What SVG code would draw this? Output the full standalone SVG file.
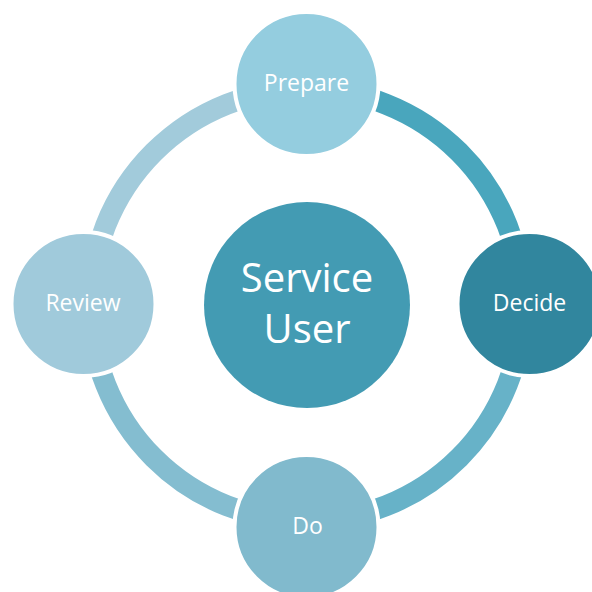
<svg xmlns="http://www.w3.org/2000/svg" width="592" height="592" viewBox="0 0 592 592">
<style>
.arc{fill:none;stroke-width:21}
.node{stroke:#ffffff;stroke-width:4}
.lbl{font-family:"Open Sans","Liberation Sans",sans-serif;fill:#ffffff;text-anchor:middle;font-size:23px}
.big{font-size:40px}
</style>
<rect width="592" height="592" fill="#ffffff"/>
<g id="connectors">
<path class="arc" stroke="#a2cbdb" d="M90.5,305 A216,216 0 0 1 306.5,89"/>
<path class="arc" stroke="#49a6bd" d="M306.5,89 A216,216 0 0 1 522.5,305"/>
<path class="arc" stroke="#67b2c8" d="M522.5,305 A216,216 0 0 1 306.5,521"/>
<path class="arc" stroke="#84bdd0" d="M306.5,521 A216,216 0 0 1 90.5,305"/>
</g>
<g id="center">
<circle cx="307" cy="305" r="103" fill="#439bb3"/>
<text class="lbl big" x="307" y="292">Service</text>
<text class="lbl big" x="307" y="343">User</text>
</g>
<g id="prepare">
<circle class="node" cx="306.5" cy="84" r="72" fill="#94cddf"/>
<text class="lbl" x="306.5" y="91">Prepare</text>
</g>
<g id="decide">
<circle class="node" cx="529.5" cy="304" r="72" fill="#31869e"/>
<text class="lbl" x="529.5" y="311">Decide</text>
</g>
<g id="do">
<circle class="node" cx="306.5" cy="527" r="72" fill="#81bacd"/>
<text class="lbl" x="307.5" y="534">Do</text>
</g>
<g id="review">
<circle class="node" cx="83.5" cy="304" r="72" fill="#a0cadb"/>
<text class="lbl" x="83" y="311">Review</text>
</g>
</svg>
